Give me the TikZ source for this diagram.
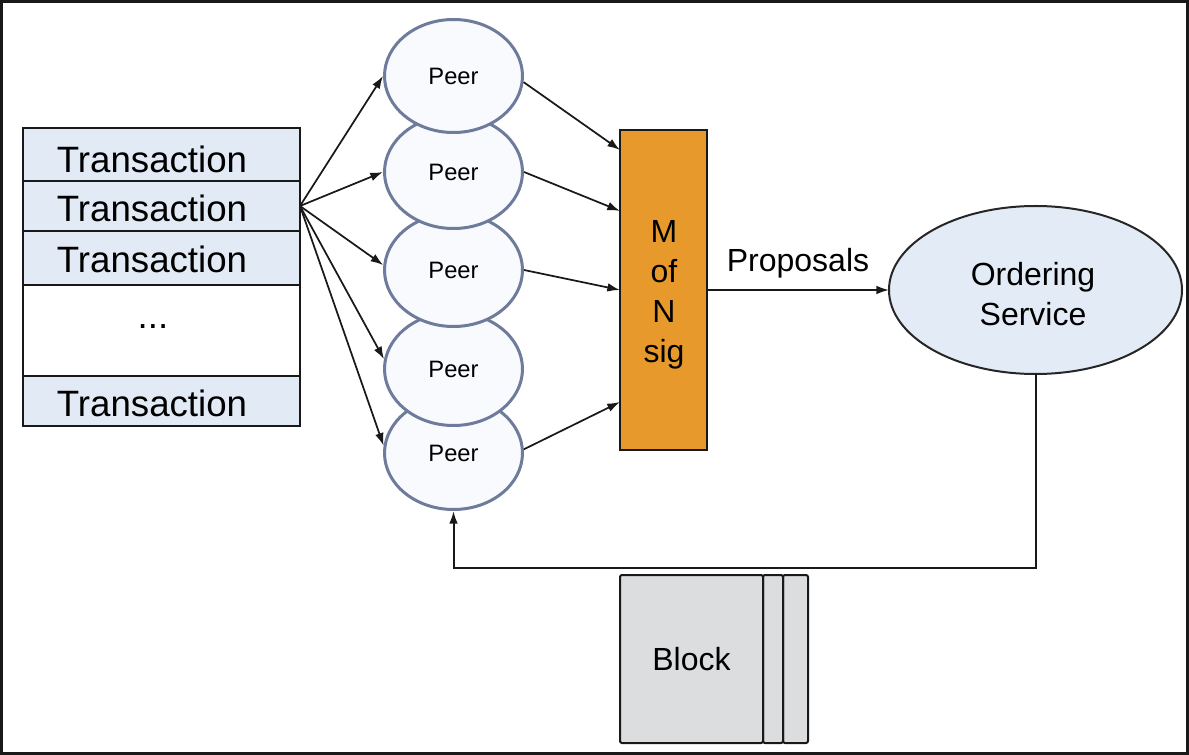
\documentclass[tikz,border=0pt]{standalone}
\usepackage{fontspec}
\setmainfont{Liberation Sans}
\usetikzlibrary{arrows.meta,calc,shapes.geometric}
\definecolor{txblue}{HTML}{E2EBF5}
\definecolor{peerfill}{HTML}{F8FAFD}
\definecolor{peerline}{HTML}{6E7B9B}
\definecolor{mnorange}{HTML}{E8992B}
\definecolor{osfill}{HTML}{E3ECF6}
\definecolor{blockfill}{HTML}{DCDDDE}
\begin{document}
\begin{tikzpicture}[x=0.75pt,y=-0.75pt,
  row/.style={rectangle,draw=black!90,line width=1.5pt,minimum width=207.75pt,inner sep=0pt,outer sep=0pt},
  txtbig/.style={font=\fontsize{27.5}{30}\selectfont,inner sep=0pt,anchor=base},
  lbl/.style={font=\fontsize{24}{30}\selectfont,inner sep=0pt,anchor=base},
  peer/.style={ellipse,draw=peerline,fill=peerfill,line width=2.25pt,minimum width=103.5pt,minimum height=84.75pt,inner sep=0pt,font=\fontsize{17.8}{20}\selectfont},
  arr/.style={-{Latex[length=9.5pt,width=6.5pt]},line width=1.3pt,black!90},
  blk/.style={rectangle,draw=black!90,fill=blockfill,line width=1.5pt,rounded corners=1.5pt,minimum height=126pt,inner sep=0pt,font=\fontsize{24}{30}\selectfont}]
\useasboundingbox (0,0) rectangle (1189,755);
% outer frame
\draw[line width=2.25pt,black!90] (1.5,1.5) rectangle (1187.5,753.5);
% transaction list
\node[row,fill=txblue,minimum height=39.75pt] (tx1) at (161.5,154.5) {};
\node[row,fill=txblue,minimum height=37.5pt] (tx2) at (161.5,206) {};
\node[row,fill=txblue,minimum height=40.5pt] (tx3) at (161.5,258) {};
\node[row,fill=white,minimum height=68.25pt] (txd) at (161.5,330.5) {};
\node[row,fill=txblue,minimum height=37.5pt] (tx5) at (161.5,401) {};
\node[txtbig] (t1) at (152,173) {Transaction};
\node[txtbig] (t2) at (152,222) {Transaction};
\node[txtbig] (t3) at (152,273) {Transaction};
\node[txtbig] (td) at (153,329) {...};
\node[txtbig] (t5) at (152,417) {Transaction};
% peers (lower ones first)
\node[peer] (peer5) at (453.5,453) {Peer};
\node[peer] (peer4) at (453.5,369) {Peer};
\node[peer] (peer3) at (453.5,270) {Peer};
\node[peer] (peer2) at (453.5,172) {Peer};
\node[peer] (peer1) at (453.5,76) {Peer};
% M of N sig
\node[rectangle,draw=black!90,fill=mnorange,line width=1.5pt,minimum width=65.25pt,minimum height=240pt,inner sep=0pt,outer sep=0pt] (mn) at (663.5,290) {};
\node[lbl] (m1) at (664,243) {M};
\node[lbl] (m2) at (664,283) {of};
\node[lbl] (m3) at (664,323) {N};
\node[lbl] (m4) at (664,363) {sig};
% ordering service
\node[ellipse,draw=black!85,fill=osfill,line width=1.5pt,minimum width=219.75pt,minimum height=126pt,inner sep=0pt,outer sep=0pt] (os) at (1035.5,290) {};
\node[lbl] (o1) at (1033,286) {Ordering};
\node[lbl] (o2) at (1033,326) {Service};
% block
\node[blk,minimum width=18.75pt] (b3) at (795.5,659) {};
\node[blk,minimum width=15pt] (b2) at (773,659) {};
\node[blk,minimum width=107.25pt] (b1) at (691.5,659) {\raisebox{-1pt}{Block}};
% arrows from transactions to peers
\draw[arr] (tx2.east) -- (peer1.west);
\draw[arr] (tx2.east) -- (peer2.west);
\draw[arr] (tx2.east) -- (peer3.176);
\draw[arr] (tx2.east) -- (peer4.172);
\draw[arr] (tx2.east) -- (peer5.174);
% arrows from peers to M of N
\draw[arr] (peer1.-5) -- ($(mn.north west)!0.0625!(mn.south west)$);
\draw[arr] (peer2.east) -- ($(mn.north west)!0.253!(mn.south west)$);
\draw[arr] (peer3.east) -- ($(mn.north west)!0.5!(mn.south west)$);
\draw[arr] (peer5.3) -- ($(mn.north west)!0.85!(mn.south west)$);
% proposals
\draw[arr] (mn.east) -- (os.west);
\node[lbl] (prop) at (798,272) {Proposals};
% feedback
\coordinate (turn) at (1035.5,568);
\draw[arr,line width=1.5pt] (os.south) -- (turn) -| (peer5.south);
\end{tikzpicture}
\end{document}
